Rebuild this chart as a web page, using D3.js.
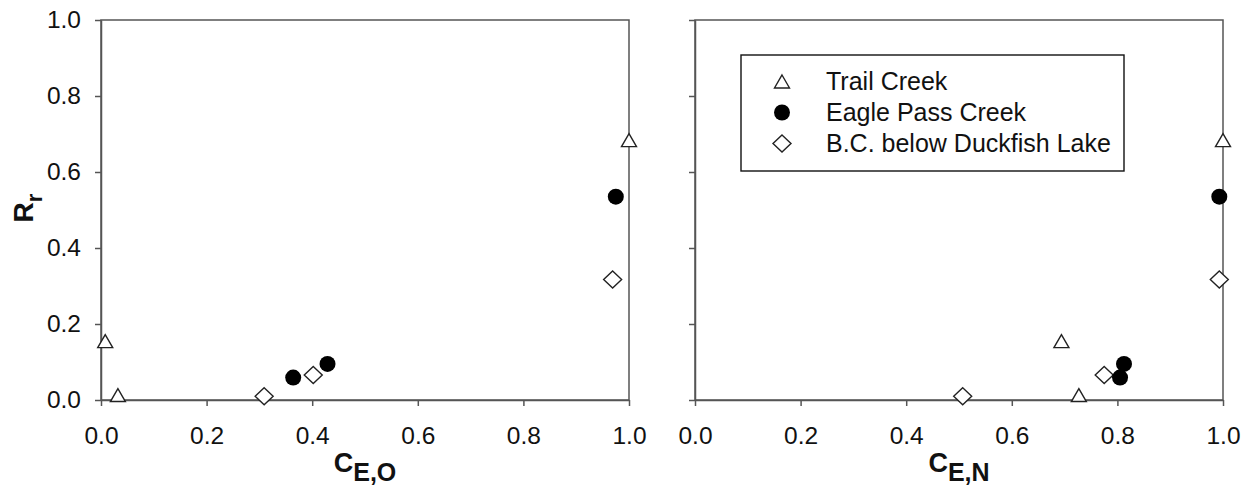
<!DOCTYPE html>
<html>
<head>
<meta charset="utf-8">
<script src="https://cdn.jsdelivr.net/npm/d3@7"></script>
<style>
  body { margin: 0; background: #fff; }
  text { font-family: "Liberation Sans", Arial, sans-serif; fill: #111; }
</style>
</head>
<body>
<svg id="chart" width="1255" height="496"></svg>
<script>
(function () {
    'use strict';

    // values
    var xTicks = [0.0, 0.2, 0.4, 0.6, 0.8, 1.0];
    var yTicks = [0.0, 0.2, 0.4, 0.6, 0.8, 1.0];

    var trailY  = [0.155, 0.013, 0.684];
    var trailXO = [0.008, 0.032, 1.0];
    var trailXN = [0.694, 0.727, 1.0];

    var eagleY  = [0.059, 0.095, 0.535];
    var eagleXO = [0.364, 0.429, 0.975];
    var eagleXN = [0.805, 0.8125, 0.993];

    var bcY  = [0.010, 0.066, 0.317];
    var bcXO = [0.309, 0.402, 0.969];
    var bcXN = [0.507, 0.775, 0.993];

    var seriesNames = ["Trail Creek", "Eagle Pass Creek", "B.C. below Duckfish Lake"];
    var seriesShapes = ["triangle", "circle", "diamond"];

    var svg = d3.select("#chart");
    var top = 20, bottom = 400;
    var y = d3.scaleLinear().domain([0, 1]).range([bottom, top]);
    var fmt = d3.format(".1f");

    function shapePath(shape) {
        if (shape === "triangle") return "M0,-6.5L7.5,6.5L-7.5,6.5Z";
        if (shape === "diamond") return "M0,-8.5L9,0L0,8.5L-9,0Z";
        return null;
    }

    function drawMark(g, shape, cx, cy) {
        if (shape === "circle") {
            g.append("circle").attr("cx", cx).attr("cy", cy).attr("r", 8)
                .attr("fill", "#000");
        } else {
            g.append("path").attr("d", shapePath(shape))
                .attr("transform", "translate(" + cx + "," + cy + ")")
                .attr("fill", "#fff").attr("stroke", "#222").attr("stroke-width", 1.4);
        }
    }

    function panel(x0, x1, xs, showYLabels, sub) {
        var x = d3.scaleLinear().domain([0, 1]).range([x0, x1]);
        var g = svg.append("g");

        // frame
        g.append("rect").attr("x", x0).attr("y", top)
            .attr("width", x1 - x0).attr("height", bottom - top)
            .attr("fill", "none").attr("stroke", "#555").attr("stroke-width", 1.5);

        var xa = g.append("g").attr("transform", "translate(0," + bottom + ")")
            .call(d3.axisBottom(x).tickValues(xTicks).tickFormat(fmt)
                .tickSize(6).tickSizeOuter(0).tickPadding(21));
        var ya = g.append("g").attr("transform", "translate(" + x0 + ",0)")
            .call(d3.axisLeft(y).tickValues(yTicks)
                .tickFormat(showYLabels ? fmt : "")
                .tickSize(6).tickSizeOuter(0).tickPadding(14));
        [xa, ya].forEach(function (a) {
            a.select(".domain").attr("stroke", "#555").attr("stroke-width", 1.5);
            a.selectAll(".tick line").attr("stroke", "#555").attr("stroke-width", 1.5);
            a.selectAll(".tick text").attr("font-size", 24.5)
                .attr("font-family", "Liberation Sans, Arial, sans-serif").attr("fill", "#111");
        });

        // x title
        var t = g.append("text").attr("x", (x0 + x1) / 2).attr("y", 472)
            .attr("text-anchor", "middle").attr("font-weight", "bold");
        t.append("tspan").attr("font-size", 27).text("C");
        t.append("tspan").attr("font-size", 25).attr("dy", 9).text(sub);

        // points: triangles, diamonds, circles
        var layers = [
            { shape: "triangle", xs: xs[0], ys: trailY },
            { shape: "diamond", xs: xs[2], ys: bcY },
            { shape: "circle", xs: xs[1], ys: eagleY }
        ];
        layers.forEach(function (l) {
            l.xs.forEach(function (v, i) {
                drawMark(g, l.shape, x(v), y(l.ys[i]));
            });
        });
    }

    panel(101, 629, [trailXO, eagleXO, bcXO], true, "E,O");
    panel(695, 1223, [trailXN, eagleXN, bcXN], false, "E,N");

    // y title
    var yt = svg.append("text").attr("transform", "translate(33,208) rotate(-90)")
        .attr("text-anchor", "middle").attr("font-weight", "bold");
    yt.append("tspan").attr("font-size", 28).text("R");
    yt.append("tspan").attr("font-size", 22).attr("dy", 9).text("r");

    // legend
    var lg = svg.append("g");
    lg.append("rect").attr("x", 741).attr("y", 55).attr("width", 383).attr("height", 116)
        .attr("fill", "#fff").attr("stroke", "#111").attr("stroke-width", 1.4);
    seriesNames.forEach(function (name, i) {
        var cy = 81.5 + i * 31;
        drawMark(lg, seriesShapes[i], 782, cy);
        lg.append("text").attr("x", 826).attr("y", cy + 8.5)
            .attr("font-size", 25).text(name);
    });
}());
</script>
</body>
</html>
